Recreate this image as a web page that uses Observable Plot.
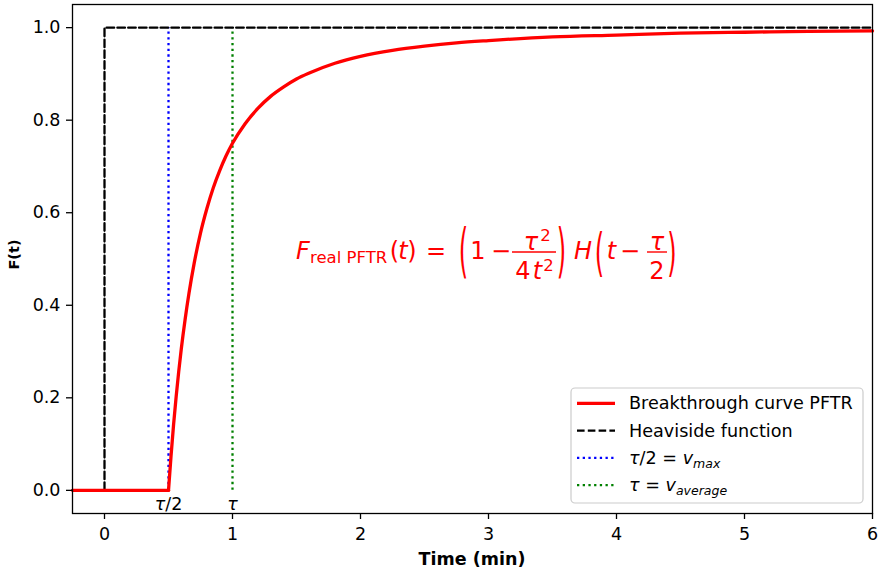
<!DOCTYPE html>
<html>
<head>
<meta charset="utf-8">
<script src="https://cdn.jsdelivr.net/npm/d3@7"></script>
<script src="https://cdn.jsdelivr.net/npm/@observablehq/plot@0.6"></script>
<style>
  html, body { margin: 0; padding: 0; background: white; }
  #chart svg { display: block; }
</style>
</head>
<body>
<div id="chart"></div>
<script>
// ---- data ----
const flatT = [-0.25, 0.5];
const flatF = [0, 0];
const riseT = [0.5, 0.52, 0.54, 0.56, 0.58, 0.6, 0.63, 0.66, 0.7, 0.75, 0.8, 0.85, 0.9, 0.95, 1.0, 1.1, 1.2, 1.3, 1.4, 1.5, 1.6, 1.8, 2.0, 2.25, 2.5, 2.75, 3.0, 3.5, 4.0, 4.5, 5.0, 5.5, 6.0];
const riseF = [0, 0.075, 0.143, 0.203, 0.257, 0.306, 0.370, 0.426, 0.490, 0.556, 0.609, 0.654, 0.691, 0.723, 0.750, 0.793, 0.826, 0.852, 0.872, 0.889, 0.902, 0.923, 0.938, 0.951, 0.960, 0.967, 0.972, 0.980, 0.984, 0.988, 0.990, 0.992, 0.993];
const heaviT = [-0.25, 0, 0, 6];
const heaviF = [0, 0, 1, 1];
const markerX = [0.5, 1.0];
const markerLabels = ["τ/2", "τ"];
const xTicks = [0, 1, 2, 3, 4, 5, 6];
const yTicks = [0.0, 0.2, 0.4, 0.6, 0.8, 1.0];
const legendLabels = ["Breakthrough curve PFTR", "Heaviside function", "τ/2 = v_max", "τ = v_average"];
const formulaAnchor = [1.5, 0.5];
const xLabel = "Time (min)";
const yLabel = "F(t)";

const flat = flatT.map((t, i) => ({t, f: flatF[i]}));
const rise = riseT.map((t, i) => ({t, f: riseF[i]}));
const heavi = heaviT.map((t, i) => ({t, f: heaviF[i]}));
const markers = markerX.map((x, i) => ({x, label: markerLabels[i]}));

const FONT = "DejaVu Sans, Liberation Sans, sans-serif";

const chart = Plot.plot({
  width: 882,
  height: 573,
  marginLeft: 72,
  marginRight: 10,
  marginTop: 4,
  marginBottom: 60,
  x: {domain: [-0.25, 6]},
  y: {domain: [-0.05, 1.05]},
  style: {fontFamily: FONT, fontSize: "17px", color: "black", background: "white", overflow: "visible"},
  marks: [
    Plot.ruleX(markers.slice(0, 1), {x: "x", y1: 0, y2: 1, stroke: "blue", strokeWidth: 2.3, strokeDasharray: "2.3,3.4"}),
    Plot.ruleX(markers.slice(1, 2), {x: "x", y1: 0, y2: 1, stroke: "green", strokeWidth: 2.3, strokeDasharray: "2.3,3.4"}),
    Plot.line(heavi, {x: "t", y: "f", stroke: "black", strokeWidth: 2.3, strokeDasharray: "7.6,3.2"}),
    Plot.line(flat, {x: "t", y: "f", stroke: "red", strokeWidth: 3.3}),
    Plot.line(rise, {x: "t", y: "f", stroke: "red", strokeWidth: 3.3, curve: "monotone-x"}),
    Plot.text(markers, {x: "x", y: 0, text: "label", dy: 14, fontSize: 17.5, fill: "black", textAnchor: "middle", className: "markerlabels"}),
    Plot.axisX(xTicks, {tickSize: 6, tickPadding: 8, label: null, strokeWidth: 1.3, fontSize: 17.5, tickFormat: d3.format("d")}),
    Plot.axisY(yTicks, {tickSize: 6, tickPadding: 6, label: null, tickFormat: d3.format(".1f"), strokeWidth: 1.3, fontSize: 17.5}),
    Plot.frame({stroke: "black", strokeWidth: 1.3})
  ]
});

document.getElementById("chart").appendChild(chart);

const svg = d3.select(chart);
const sx = chart.scale("x");
const sy = chart.scale("y");

// italic τ in the marker labels (mathtext style)
svg.selectAll(".markerlabels text").each(function () {
  const el = d3.select(this);
  const s = el.text();
  el.text("");
  el.append("tspan").attr("font-style", "italic").text(s.slice(0, 1));
  if (s.length > 1) el.append("tspan").text(s.slice(1));
});

// axis labels
svg.append("text")
  .attr("x", (sx.apply(-0.25) + sx.apply(6)) / 2).attr("y", 565)
  .attr("text-anchor", "middle").attr("font-weight", "bold")
  .attr("font-size", 17.5).attr("font-family", FONT).text(xLabel);
svg.append("text")
  .attr("transform", `translate(19,${(sy.apply(-0.05) + sy.apply(1.05)) / 2 - 4}) rotate(-90)`)
  .attr("text-anchor", "middle").attr("font-weight", "bold")
  .attr("font-size", 14.5).attr("font-family", FONT).text(yLabel);

// ---- formula ----
const fx = sx.apply(formulaAnchor[0]);
const fy = sy.apply(formulaAnchor[1]);
const g = svg.append("g").attr("transform", `translate(${fx},${fy})`)
  .attr("fill", "red").attr("font-family", FONT);

function t(str, x, y, opts = {}) {
  const e = g.append("text").attr("x", x).attr("y", y)
    .attr("font-size", opts.size || 24)
    .attr("text-anchor", opts.anchor || "middle")
    .text(str);
  if (opts.italic) e.attr("font-style", "italic");
  return e;
}
function bar(x1, x2) {
  g.append("line").attr("x1", x1).attr("x2", x2).attr("y1", -6.5).attr("y2", -6.5)
    .attr("stroke", "red").attr("stroke-width", 1.4);
}
function paren(ch, cx, top, bottom) {
  const h = bottom - top;
  const size = 24;
  const k = h / (0.89 * size);
  const cy = (top + bottom) / 2;
  g.append("text").attr("font-size", size).attr("text-anchor", "middle")
    .attr("transform", `translate(${cx},${cy}) scale(1,${k})`)
    .attr("y", 0.315 * size).text(ch);
}

t("F", 0, 0, {italic: true, anchor: "start"});
t("real PFTR", 14, 4, {size: 16.5, anchor: "start"});
t("(", 98.5, 0);
t("t", 107, 0, {italic: true});
t(")", 116, 0);
t("=", 140, 0);
paren("(", 167.5, -33, 20);
t("1", 182, 0);
t("−", 205, 0);
bar(216, 260);
t("τ", 235, -8.5, {italic: true});
t("2", 249.5, -17.5, {size: 16.5});
t("4", 227, 20);
t("t", 241.5, 20, {italic: true});
t("2", 252.5, 12.5, {size: 16.5});
paren(")", 265.5, -33, 20);
t("H", 287, 0, {italic: true});
paren("(", 303.5, -27, 18.5);
t("t", 315.5, 0, {italic: true});
t("−", 334, 0);
bar(351, 371);
t("τ", 361, -8.5, {italic: true});
t("2", 361, 20);
paren(")", 376, -27, 18.5);

// ---- legend ----
const lg = svg.append("g").attr("font-family", FONT).attr("font-size", 17.6).attr("text-anchor", "start");
lg.append("rect").attr("x", 571).attr("y", 388).attr("width", 292).attr("height", 115)
  .attr("rx", 4).attr("fill", "white").attr("fill-opacity", 0.8)
  .attr("stroke", "#cccccc").attr("stroke-width", 1.2);
const rowStyles = [
  {stroke: "red", width: 3.3, dash: null},
  {stroke: "black", width: 2.3, dash: "7.6,3.2"},
  {stroke: "blue", width: 2.3, dash: "2.3,3.4"},
  {stroke: "green", width: 2.3, dash: "2.3,3.4"}
];
legendLabels.forEach((label, i) => {
  const ly = 403.3 + 27.3 * i;
  const s = rowStyles[i];
  const ln = lg.append("line").attr("x1", 577).attr("x2", 615).attr("y1", ly).attr("y2", ly)
    .attr("stroke", s.stroke).attr("stroke-width", s.width);
  if (s.dash) ln.attr("stroke-dasharray", s.dash);
  const tx = lg.append("text").attr("x", 629).attr("y", ly + 6).attr("fill", "black")
    .attr("text-anchor", "start");
  const m = label.match(/^(τ)(.*?)= v_(\w+)$/);
  if (m) {
    tx.append("tspan").attr("font-style", "italic").text(m[1]);
    tx.append("tspan").text(m[2] + "= ");
    tx.append("tspan").attr("font-style", "italic").text("v");
    tx.append("tspan").attr("font-style", "italic").attr("font-size", 12.5).attr("dy", 4).text(m[3]);
  } else {
    tx.text(label);
  }
});
</script>
</body>
</html>
